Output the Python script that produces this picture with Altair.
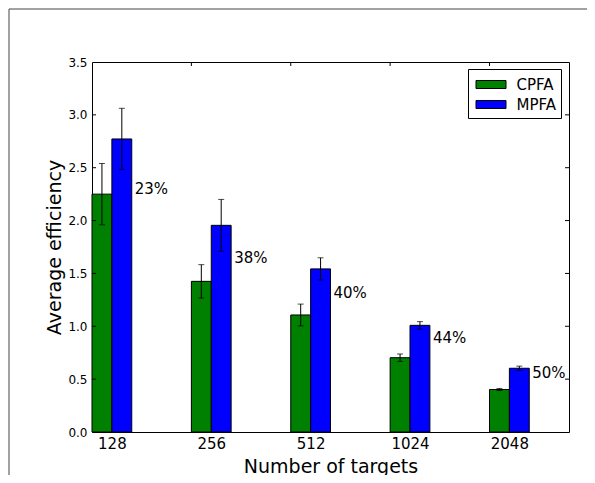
import json
import altair as alt
import pandas as pd

# ---- data ----
targets = ["128", "256", "512", "1024", "2048"]
cpfa = [2.25, 1.425, 1.107, 0.703, 0.402]
cpfa_err = [0.29, 0.158, 0.103, 0.035, 0.01]
mpfa = [2.772, 1.955, 1.543, 1.009, 0.603]
mpfa_err = [0.29, 0.245, 0.105, 0.035, 0.02]
pct_labels = ["23%", "38%", "40%", "44%", "50%"]
pct_label_y = [2.296, 1.643, 1.312, 0.886, 0.561]
series_names = ["CPFA", "MPFA"]
series_colors = ["#008000", "#0000ff"]
y_tick_values = [0.0, 0.5, 1.0, 1.5, 2.0, 2.5, 3.0, 3.5]
inner_y_ticks = [0.5, 1.0, 1.5, 2.0, 2.5, 3.0]
top_x_ticks = [1, 2, 3, 4]

BAR_W = 0.2
W, H = 477, 370
FONT = "DejaVu Sans"

rows = []
for i, t in enumerate(targets):
    for k, (name, vals, errs) in enumerate(
        [("CPFA", cpfa, cpfa_err), ("MPFA", mpfa, mpfa_err)]
    ):
        x0 = i + k * BAR_W
        rows.append({
            "target": t, "series": name,
            "x0": x0, "x1": x0 + BAR_W, "xc": x0 + BAR_W / 2,
            "value": vals[i], "lo": vals[i] - errs[i], "hi": vals[i] + errs[i],
        })
df = pd.DataFrame(rows)

lab_df = pd.DataFrame({
    "x": [i + 2 * BAR_W for i in range(len(targets))],
    "y": pct_label_y, "label": pct_labels,
})

xscale = alt.Scale(domain=[0, 4.8], nice=False, zero=False)
yscale = alt.Scale(domain=[0, 3.5], nice=False)

label_expr = json.dumps(targets) + "[round(datum.value - %s)]" % BAR_W

bars = alt.Chart(df).mark_bar(stroke="black", strokeWidth=1).encode(
    x=alt.X("x0:Q", scale=xscale, axis=alt.Axis(
        values=[i + BAR_W for i in range(len(targets))],
        labelExpr=label_expr, ticks=False, domain=False, grid=False,
        labelFontSize=15, labelPadding=4, labelFont=FONT, labelColor="black",
        title="Number of targets", titleFontSize=19, titleFont=FONT,
        titleFontWeight="normal", titleColor="black",
        titleBaseline="alphabetic", titleY=40, titleX=W / 2,
        titleAnchor="middle",
    )),
    x2="x1:Q",
    y=alt.Y("value:Q", scale=yscale, axis=alt.Axis(
        values=y_tick_values, format=".1f", ticks=False, domain=False,
        grid=False, labelFontSize=12, labelPadding=5, labelFont=FONT,
        labelColor="black",
        title="Average efficiency", titleFontSize=19, titleFont=FONT,
        titleFontWeight="normal", titleColor="black",
        titleBaseline="alphabetic", titleX=-32, titleY=H / 2,
        titleAngle=-90, titleAnchor="middle",
    )),
    y2=alt.datum(0),
    color=alt.Color("series:N", scale=alt.Scale(domain=series_names,
                                                 range=series_colors),
                    legend=alt.Legend(
                        title=None, orient="none", legendX=376, legendY=7,
                        fillColor="white", strokeColor="black",
                        padding=5, rowPadding=1, cornerRadius=0,
                        symbolType="M-1.5,-0.4H1.5V0.4H-1.5Z",
                        symbolSize=400, symbolOffset=7.5,
                        symbolStrokeColor="black", symbolStrokeWidth=1,
                        symbolOpacity=1,
                        labelFontSize=15, labelFont=FONT, labelColor="black",
                        labelOffset=15,
                    )),
)

err_rule = alt.Chart(df).mark_rule(color="black", strokeWidth=1).encode(
    x=alt.X("xc:Q", scale=xscale), y=alt.Y("lo:Q", scale=yscale), y2="hi:Q"
)
cap_lo = alt.Chart(df).mark_tick(color="black", orient="horizontal",
                                 size=6, thickness=1).encode(
    x=alt.X("xc:Q", scale=xscale), y=alt.Y("lo:Q", scale=yscale)
)
cap_hi = alt.Chart(df).mark_tick(color="black", orient="horizontal",
                                 size=6, thickness=1).encode(
    x=alt.X("xc:Q", scale=xscale), y=alt.Y("hi:Q", scale=yscale)
)

texts = alt.Chart(lab_df).mark_text(
    align="left", baseline="middle", dx=3, fontSize=15, font=FONT,
    color="black",
).encode(
    x=alt.X("x:Q", scale=xscale), y=alt.Y("y:Q", scale=yscale), text="label:N"
)

ytick_df = pd.DataFrame({"v": inner_y_ticks})
left_ticks = alt.Chart(ytick_df).mark_rule(color="black").encode(
    y=alt.Y("v:Q", scale=yscale), x=alt.value(0), x2=alt.value(4)
)
right_ticks = alt.Chart(ytick_df).mark_rule(color="black").encode(
    y=alt.Y("v:Q", scale=yscale), x=alt.value(W - 4), x2=alt.value(W)
)
top_ticks = alt.Chart(pd.DataFrame({"v": top_x_ticks})).mark_rule(
    color="black").encode(
    x=alt.X("v:Q", scale=xscale), y=alt.value(0), y2=alt.value(4)
)

frame_left = alt.Chart(pd.DataFrame({"a": [0]})).mark_rule(
    color="#444444", strokeWidth=1, clip=False
).encode(x=alt.value(-83), y=alt.value(-53), y2=alt.value(430))
frame_top = alt.Chart(pd.DataFrame({"a": [0]})).mark_rule(
    color="#444444", strokeWidth=1, clip=False
).encode(x=alt.value(-83), x2=alt.value(510), y=alt.value(-53))

chart = alt.layer(
    frame_left, frame_top, bars, err_rule, cap_lo, cap_hi, texts,
    left_ticks, right_ticks, top_ticks,
).properties(
    width=W, height=H,
    autosize=alt.AutoSizeParams(type="none"),
    padding={"left": 84, "top": 54, "right": 18, "bottom": 43},
    background="white",
).configure_view(stroke="black", strokeWidth=1)

chart.save("out.html", embed_options={"renderer": "svg", "actions": False})
